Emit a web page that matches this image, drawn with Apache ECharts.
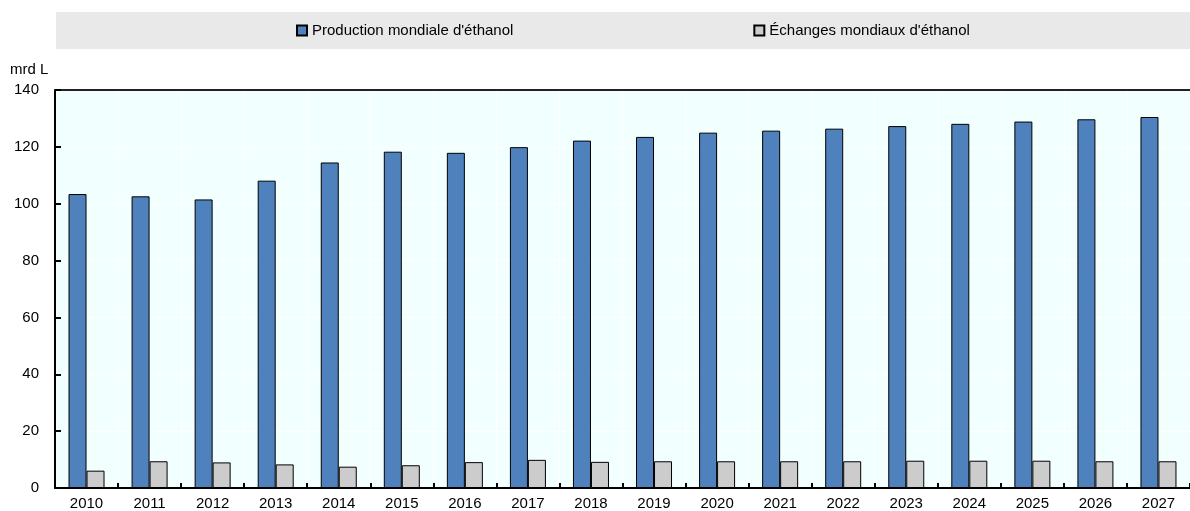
<!DOCTYPE html>
<html><head><meta charset="utf-8">
<script src="https://cdn.jsdelivr.net/npm/echarts@6/dist/echarts.min.js"></script>
<style>html,body{margin:0;padding:0;background:#fff}#c{width:1190px;height:511px}</style>
</head><body><div id="c"></div>
<script>
const years = ['2010','2011','2012','2013','2014','2015','2016','2017','2018','2019','2020','2021','2022','2023','2024','2025','2026','2027'];
const production = [103.4,102.6,101.5,108.1,114.5,118.3,117.9,119.9,122.2,123.5,125.0,125.7,126.4,127.3,128.1,128.9,129.7,130.5];
const trade = [6.1,9.4,9.0,8.3,7.5,8.0,9.1,9.9,9.2,9.4,9.4,9.4,9.4,9.6,9.6,9.6,9.4,9.4];
const yTicks = [0,20,40,60,80,100,120,140];
const seriesNames = ["Production mondiale d'éthanol", "Échanges mondiaux d'éthanol"];
const unitLabel = 'mrd L';

const FONT = "'Liberation Sans Narrow','Arial Narrow','Liberation Sans',Arial,sans-serif";
const chart = echarts.init(document.getElementById('c'));
chart.setOption({
  animation: false,
  textStyle: {fontFamily: FONT},
  graphic: [
    {type:'rect', shape:{x:56,y:12,width:1134,height:37}, style:{fill:'#e9e9e9'}, z:-1},
    {type:'text', left:10, top:62, style:{text:unitLabel, font:'15px '+FONT, fill:'#000'}}
  ],
  legend: {
    top: 23, left: 296, padding: 0, itemGap: 240, itemWidth: 10, itemHeight: 10, icon: 'rect',
    textStyle: {fontSize: 15, color:'#000', fontFamily: FONT},
    data: seriesNames
  },
  grid: {left: 55, right: -4, top: 90, bottom: 22, show: true, backgroundColor: '#f2ffff', borderWidth: 0, containLabel: false},
  xAxis: [{
    type: 'category', data: years, yAxisIndex: 0,
    axisLine: {lineStyle: {color:'#000', width: 2}},
    axisTick: {show: true, inside: true, length: 5, lineStyle:{color:'#000', width:2}},
    axisLabel: {color:'#000', fontSize: 15, fontFamily: FONT, margin: 8},
    splitLine: {show: true, lineStyle: {color:'#ffffff', width:1}}
  },{
    type: 'category', data: years, position: 'top',
    axisLine: {lineStyle: {color:'#222', width: 2}},
    axisTick: {show:false}, axisLabel: {show:false}
  }],
  yAxis: {
    type: 'value', min: 0, max: 140, interval: 20,
    axisLine: {show: true, lineStyle: {color:'#000', width: 2}},
    axisTick: {show: true, inside: true, length: 6, lineStyle:{color:'#000', width:2}},
    axisLabel: {color:'#000', fontSize: 15, fontFamily: FONT, margin: 16},
    splitLine: {show: true, lineStyle: {color:'#ffffff', width:1}}
  },
  series: [
    {name: seriesNames[0], type:'bar', data: production, barWidth: 18, barGap: '0%',
     itemStyle: {color:'#4f81bd', borderColor:'#000', borderWidth: 1}},
    {name: seriesNames[1], type:'bar', data: trade, barWidth: 18,
     itemStyle: {color:'#cccccc', borderColor:'#000', borderWidth: 1}}
  ]
});
</script></body></html>
